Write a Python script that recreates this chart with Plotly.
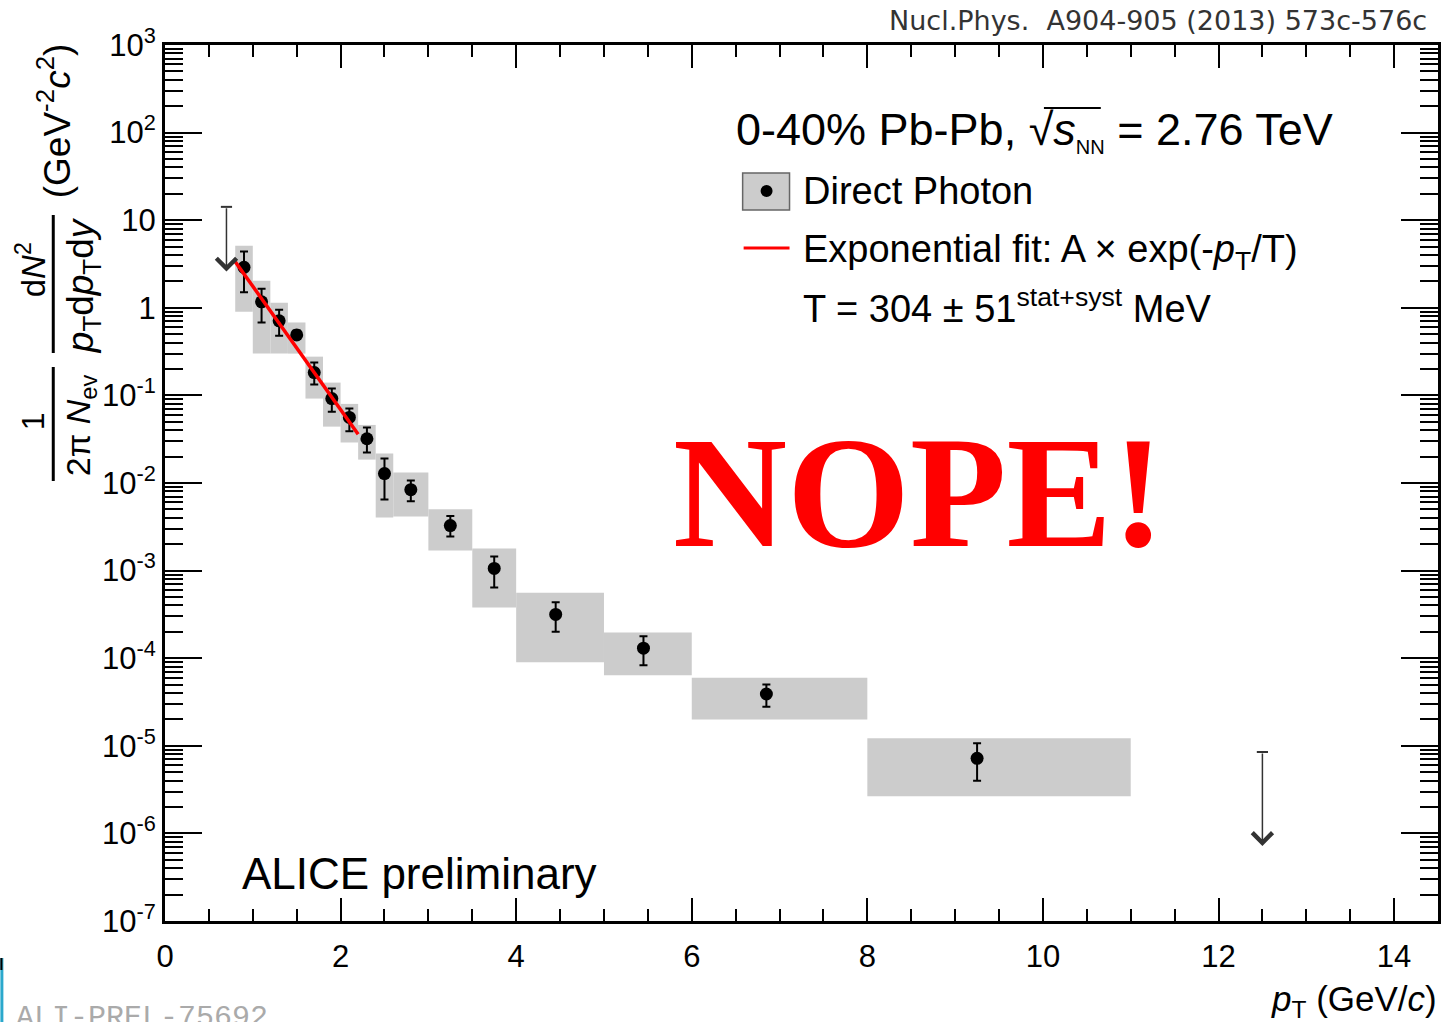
import numpy as np
import plotly.graph_objects as go

# ---- data: direct photon spectrum, 0-40% Pb-Pb ----
pt_x = [0.9, 1.1, 1.3, 1.5, 1.7, 1.9, 2.1, 2.3, 2.5, 2.8, 3.25, 3.75, 4.45, 5.45, 6.85, 9.25]
pt_y = [2.9, 1.17, 0.71, 0.49, 0.182, 0.092, 0.056, 0.032, 0.0128, 0.0084,
        0.00327, 0.00106, 0.000316, 0.00013, 3.9e-5, 7.2e-6]
# statistical error bounds
stat_hi = [4.4, 1.65, 0.95, 0.55, 0.237, 0.12, 0.071, 0.043, 0.019, 0.0107,
           0.0042, 0.00145, 0.000435, 0.000178, 5.0e-5, 1.07e-5]
stat_lo = [1.5, 0.68, 0.48, 0.44, 0.133, 0.065, 0.039, 0.0223, 0.0065, 0.0062,
           0.00245, 0.00064, 0.0002, 8.3e-5, 2.8e-5, 4.0e-6]
# systematic boxes
box_xlo = [0.8, 1.0, 1.2, 1.4, 1.6, 1.8, 2.0, 2.2, 2.4, 2.6, 3.0, 3.5, 4.0, 5.0, 6.0, 8.0]
box_xhi = [1.0, 1.2, 1.4, 1.6, 1.8, 2.0, 2.2, 2.4, 2.6, 3.0, 3.5, 4.0, 5.0, 6.0, 8.0, 11.0]
box_ylo = [0.90, 0.30, 0.30, 0.30, 0.092, 0.044, 0.029, 0.0185, 0.00405, 0.00415,
           0.0017, 0.00038, 9.0e-5, 6.4e-5, 2.0e-5, 2.66e-6]
box_yhi = [5.1, 2.04, 1.14, 0.68, 0.277, 0.14, 0.080, 0.046, 0.0217, 0.0132,
           0.005, 0.00179, 0.00056, 0.000197, 6.0e-5, 1.22e-5]
# upper limits (arrow from value down to tip)
ul_x = [0.7, 12.5]
ul_from = [14.2, 8.5e-6]
ul_to = [2.6, 7.2e-7]
# exponential fit, A*exp(-pT/T) -> straight line on log scale
fit_x = [0.8, 2.2]
fit_y = [3.36, 0.036]

x_ticks = [0, 2, 4, 6, 8, 10, 12, 14]
y_ticks = [1e3, 1e2, 1e1, 1, 1e-1, 1e-2, 1e-3, 1e-4, 1e-5, 1e-6, 1e-7]
y_ticktext = ["10<sup>3</sup>", "10<sup>2</sup>", "10", "1", "10<sup>-1</sup>",
              "10<sup>-2</sup>", "10<sup>-3</sup>", "10<sup>-4</sup>",
              "10<sup>-5</sup>", "10<sup>-6</sup>", "10<sup>-7</sup>"]

FONT = "Liberation Sans, Arial, Helvetica, sans-serif"
L, T, W, H = 165, 45, 1276, 876


def fx(px):
    return (px - L) / W


def fy(py):
    return 1 - (py - T) / H


fig = go.Figure()

# systematic uncertainty boxes
for x0, x1, y0, y1 in zip(box_xlo, box_xhi, box_ylo, box_yhi):
    fig.add_trace(go.Scatter(
        x=[x0, x1, x1, x0, x0], y=[y0, y0, y1, y1, y0],
        mode="lines", fill="toself", fillcolor="#cccccc",
        line=dict(width=0, color="#cccccc"), hoverinfo="skip", showlegend=False))

# data points with statistical errors
fig.add_trace(go.Scatter(
    x=pt_x, y=pt_y, mode="markers",
    marker=dict(symbol="circle", size=13, color="black"),
    error_y=dict(type="data", symmetric=False,
                 array=[h - y for h, y in zip(stat_hi, pt_y)],
                 arrayminus=[y - l for l, y in zip(stat_lo, pt_y)],
                 color="black", thickness=2, width=4),
    showlegend=False))

# caps on top of the upper-limit arrows
fig.add_trace(go.Scatter(
    x=ul_x, y=ul_from, mode="markers",
    marker=dict(symbol="line-ew-open", size=8, color="#333333",
                line=dict(width=2, color="#333333")),
    hoverinfo="skip", showlegend=False))

# exponential fit
fig.add_trace(go.Scatter(
    x=fit_x, y=fit_y, mode="lines", line=dict(color="#ff0000", width=3.5),
    showlegend=False))

annotations = []
for x, yf, yt in zip(ul_x, ul_from, ul_to):
    annotations.append(dict(
        x=x, y=np.log10(yt), ax=x, ay=np.log10(yf), xref="x", yref="y",
        axref="x", ayref="y", showarrow=True, arrowhead=4, arrowsize=2.6,
        arrowwidth=1.5, arrowcolor="#333333", text=""))


def txt(text, px, py, size, xanchor="left", yanchor="middle", color="black",
        family=FONT, angle=0):
    annotations.append(dict(
        text=text, x=fx(px), y=fy(py), xref="paper", yref="paper",
        xanchor=xanchor, yanchor=yanchor, showarrow=False, textangle=angle,
        font=dict(size=size, color=color, family=family)))


txt("0-40% Pb-Pb, √<i>s</i><sub><span style='font-size:20px'>NN</span></sub>"
    " = 2.76 TeV", 735, 131, 45)
txt("Direct Photon", 802, 191, 38)
txt("Exponential fit: A × exp(-<i>p</i><sub>T</sub>/T)", 802, 252, 38)
txt("T = 304 ± 51<sup>stat+syst</sup> MeV", 802, 306, 38)
txt("ALICE preliminary", 240, 873, 44)
txt("<b>NOPE!</b>", 921, 492, 158, xanchor="center", color="#ff0000",
    family="Liberation Serif, Times New Roman, serif")
txt("Nucl.Phys.  A904-905 (2013) 573c-576c", 1432, 21, 27, xanchor="right",
    color="#333333", family="DejaVu Sans, sans-serif")
txt("ALI-PREL-75692", 14, 999, 30, yanchor="top", color="#aaaaaa",
    family="Liberation Mono, Courier New, monospace")
txt("<i>p</i><sub>T</sub> (GeV/<i>c</i>)", 1442, 1001, 35, xanchor="right")

# y-axis title built from two fractions
txt("1", 33, 421, 32, xanchor="center", angle=-90)
txt("2π <i>N</i><sub>ev</sub>", 80, 425, 34, xanchor="center", angle=-90)
txt("d<i>N</i><sup>2</sup>", 31, 270, 33, xanchor="center", angle=-90)
txt("<i>p</i><sub>T</sub>d<i>p</i><sub>T</sub>d<i>y</i>", 83, 285, 37,
    xanchor="center", angle=-90)
txt("(GeV<sup>-2</sup><i>c</i><sup>2</sup>)", 54, 121, 37, xanchor="center",
    angle=-90)

shapes = [
    # fraction bars of the y title
    dict(type="line", xref="paper", yref="paper", x0=fx(53), x1=fx(53),
         y0=fy(367), y1=fy(481), line=dict(color="black", width=3)),
    dict(type="line", xref="paper", yref="paper", x0=fx(53), x1=fx(53),
         y0=fy(215), y1=fy(353), line=dict(color="black", width=3)),
    # sqrt overline
    dict(type="line", xref="paper", yref="paper", x0=fx(1046), x1=fx(1103),
         y0=fy(108), y1=fy(108), line=dict(color="black", width=2)),
    # legend entries
    dict(type="rect", xref="paper", yref="paper", x0=fx(744), x1=fx(791),
         y0=fy(210), y1=fy(173), fillcolor="#cccccc",
         line=dict(color="#666666", width=1.5)),
    dict(type="circle", xref="paper", yref="paper", x0=fx(762), x1=fx(774),
         y0=fy(197), y1=fy(185), fillcolor="black", line=dict(width=0)),
    dict(type="line", xref="paper", yref="paper", x0=fx(745), x1=fx(791),
         y0=fy(248), y1=fy(248), line=dict(color="#ff0000", width=3)),
    # strip at the lower left edge
    dict(type="rect", xref="paper", yref="paper", x0=fx(0), x1=fx(3),
         y0=fy(1022), y1=fy(958), fillcolor="#2aa8cc", line=dict(width=0)),
    dict(type="rect", xref="paper", yref="paper", x0=fx(0), x1=fx(2),
         y0=fy(970), y1=fy(958), fillcolor="black", line=dict(width=0)),
]

minor_y = [m * 10.0 ** e for e in range(-7, 3) for m in range(2, 10)]

fig.update_layout(
    width=1447, height=1022,
    margin=dict(l=L, r=1447 - L - W, t=T, b=1022 - T - H),
    paper_bgcolor="white", plot_bgcolor="white",
    showlegend=False,
    annotations=annotations, shapes=shapes,
    font=dict(family=FONT, color="black"),
    xaxis=dict(
        range=[0, 14.5], showgrid=False, zeroline=False,
        showline=True, linecolor="black", linewidth=3, mirror="allticks",
        ticks="inside", ticklen=23, tickwidth=2, tickcolor="black",
        tickvals=x_ticks, ticktext=[str(v) for v in x_ticks],
        tickfont=dict(size=31, family=FONT), ticklabelstandoff=6,
        minor=dict(ticks="inside", ticklen=12, tickwidth=2, tickcolor="black",
                   dtick=0.5, tick0=0, showgrid=False),
    ),
    yaxis=dict(
        type="log", range=[-7, 3], showgrid=False, zeroline=False,
        showline=True, linecolor="black", linewidth=3, mirror="allticks",
        ticks="inside", ticklen=37, tickwidth=2, tickcolor="black",
        tickvals=y_ticks, ticktext=y_ticktext,
        tickfont=dict(size=31, family=FONT),
        minor=dict(ticks="inside", ticklen=18, tickwidth=1.5, tickcolor="black",
                   tickmode="array", tickvals=minor_y, showgrid=False),
    ),
)

fig.write_html("out.html")
